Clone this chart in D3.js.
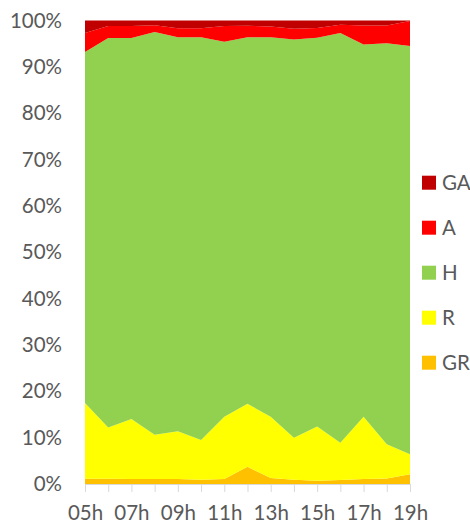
<!DOCTYPE html>
<html>
<head>
<meta charset="utf-8">
<script src="https://cdn.jsdelivr.net/npm/d3@7"></script>
<style>
  body { margin: 0; background: #fff; }
  text { font-family: Lato, "Open Sans", sans-serif; fill: #595959; }
</style>
</head>
<body>
<script>
// hours on the x axis
var hours = ["05h","06h","07h","08h","09h","10h","11h","12h","13h","14h","15h","16h","17h","18h","19h"];
// series, bottom to top (percent of total)
var seriesNames = ["GR", "R", "H", "A", "GA"];
var GR = [1.15, 1.15, 1.1, 1.1, 1.1, 0.9, 1.1, 3.7, 1.3, 0.9, 0.7, 0.85, 1.1, 1.2, 2.1];
var R  = [16.35, 11.05, 12.9, 9.5, 10.3, 8.6, 13.4, 13.6, 13.2, 9.1, 11.7, 8.05, 13.4, 7.4, 4.3];
var H  = [75.7, 84.0, 82.2, 86.9, 85.0, 86.9, 80.9, 79.1, 81.9, 85.9, 83.9, 88.4, 80.3, 86.5, 88.1];
var A  = [4.1, 2.6, 2.6, 1.5, 1.95, 1.95, 3.4, 2.45, 2.3, 2.3, 2.1, 1.8, 4.1, 3.8, 5.4];
var GA = [2.7, 1.2, 1.2, 1.0, 1.65, 1.65, 1.2, 1.15, 1.3, 1.8, 1.6, 0.9, 1.1, 1.1, 0.1];
var yTicks = [0, 0.1, 0.2, 0.3, 0.4, 0.5, 0.6, 0.7, 0.8, 0.9, 1];

var colors = { GR: "#FFC000", R: "#FFFF00", H: "#92D050", A: "#FF0000", GA: "#C00000" };
var values = { GR: GR, R: R, H: H, A: A, GA: GA };

var rows = hours.map(function(h, i) {
  var r = { hour: h };
  seriesNames.forEach(function(s) { r[s] = values[s][i]; });
  return r;
});

var width = 470, height = 524;
var margin = { top: 20.5, left: 85, right: 60, bottom: 40 };

var svg = d3.select("body").append("svg")
    .attr("width", width)
    .attr("height", height);

var x = d3.scalePoint()
    .domain(hours)
    .range([margin.left, width - margin.right]);

var y = d3.scaleLinear()
    .domain([0, 1])
    .range([height - margin.bottom, margin.top]);

var stack = d3.stack()
    .keys(seriesNames)
    .offset(d3.stackOffsetExpand);
var layers = stack(rows);

var area = d3.area()
    .x(function(d) { return x(d.data.hour); })
    .y0(function(d) { return y(d[0]); })
    .y1(function(d) { return y(d[1]); });

svg.append("g").selectAll("path")
  .data(layers)
  .enter().append("path")
    .attr("fill", function(d) { return colors[d.key]; })
    .attr("d", area);

// x axis
var xAxis = svg.append("g")
    .attr("transform", "translate(0," + y(0) + ")")
    .call(d3.axisBottom(x).tickSize(8).tickPadding(13)
      .tickFormat(function(d, i) { return i % 2 === 0 ? d : ""; }));
xAxis.select(".domain").attr("stroke", "#D9D9D9");
xAxis.selectAll(".tick line").attr("stroke", "#D9D9D9");
xAxis.selectAll("text").attr("font-size", "20.5px").attr("fill", "#595959");

// y axis
var yAxis = svg.append("g")
    .attr("transform", "translate(" + (margin.left - 23) + ",0)")
    .call(d3.axisLeft(y).tickValues(yTicks).tickSize(0).tickPadding(0)
      .tickFormat(d3.format(".0%")));
yAxis.select(".domain").remove();
yAxis.selectAll("text").attr("font-size", "20.5px").attr("fill", "#595959");

// legend, top to bottom
var legend = svg.append("g").selectAll("g")
  .data(seriesNames.slice().reverse())
  .enter().append("g")
    .attr("transform", function(d, i) { return "translate(422," + (182.7 + i * 45) + ")"; });

legend.append("rect")
    .attr("x", 0)
    .attr("y", -7)
    .attr("width", 14)
    .attr("height", 14)
    .attr("fill", function(d) { return colors[d]; });

legend.append("text")
    .attr("x", 20)
    .attr("dy", "0.35em")
    .attr("font-size", "20.5px")
    .text(function(d) { return d; });
</script>
</body>
</html>
